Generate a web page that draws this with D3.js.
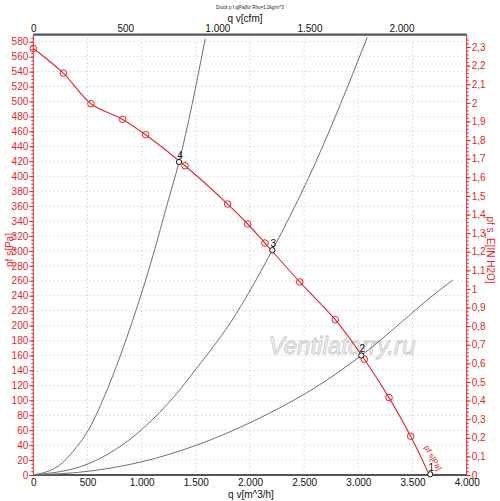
<!DOCTYPE html>
<html>
<head>
<meta charset="utf-8">
<script src="https://cdn.jsdelivr.net/npm/d3@7"></script>
<style>
  body { margin: 0; background: #fff; }
  svg { font-family: "Liberation Sans", Arial, sans-serif; }
</style>
</head>
<body>
<svg width="500" height="501"></svg>
<script>
// fan curve pf s [Pa] over qv [m^3/h]
const fanQ = [0, 277, 532, 825, 1037, 1400, 1794, 1979, 2138, 2459, 2787, 3055, 3283, 3483, 3655];
const fanP = [571, 538, 497, 476, 455.5, 414, 362.7, 336, 310.5, 258.4, 207.9, 155, 103.6, 51.8, 0];
const fanMarked = [1, 1, 1, 1, 1, 1, 1, 1, 1, 1, 1, 1, 1, 1, 0];

// system curves
const sysA = [[0, 0], [250, 14], [369, 32], [508, 60], [687, 116], [846, 177], [985, 237], [1117, 300], [1231, 360], [1345, 419], [1587, 584]];
const sysB = [[0, 0], [508, 15], [1010, 62], [1323, 109], [1508, 143], [1815, 203], [2206, 301], [2538, 397], [3083, 586]];
const sysC = [[0, 0], [508, 5], [1010, 18], [1508, 40], [2000, 70], [2708, 127], [3027, 160], [3754, 248], [3871, 261]];

// operating points
const opLabels = ['1', '2', '3', '4'];
const opQ = [3664, 3027, 2206, 1345];
const opP = [1, 160, 301, 419];

const bottomTicks = [0, 500, 1000, 1500, 2000, 2500, 3000, 3500, 4000];
const topTicks = [0, 500, 1000, 1500, 2000];
const leftTicks = d3.range(0, 581, 20);
const rightTicks = d3.range(0, 23.5, 1).map(d => d / 10);

const CFM = 1.699;    // m^3/h per cfm
const INH2O = 249.09; // Pa per inch of water

const red = '#e3262a';
const svg = d3.select('svg');

const x = d3.scaleLinear().domain([0, 4000]).range([33.3, 466.7]);
const y = d3.scaleLinear().domain([0, 589.4]).range([475, 34.7]);
const xTop = d3.scaleLinear().domain([0, 4000 / CFM]).range(x.range());
const yRight = d3.scaleLinear().domain([0, 589.4 / INH2O]).range(y.range());

const fmtDe = d => d3.format(',')(d).replace(/,/g, '.');
const fmtComma = d => (d === 0 ? '0' : String(+d.toFixed(1)).replace('.', ','));

// grid
const grid = svg.append('g')
  .attr('stroke', '#c4c4c4')
  .attr('stroke-dasharray', '1,3');
grid.selectAll('line.v')
  .data(bottomTicks.slice(1, -1))
  .join('line')
  .attr('class', 'v')
  .attr('x1', d => x(d)).attr('x2', d => x(d))
  .attr('y1', y.range()[1]).attr('y2', y.range()[0]);
grid.selectAll('line.h')
  .data(leftTicks.slice(1))
  .join('line')
  .attr('class', 'h')
  .attr('x1', x.range()[0]).attr('x2', x.range()[1])
  .attr('y1', d => y(d)).attr('y2', d => y(d));

// watermark
svg.append('text')
  .attr('x', 342).attr('y', 354)
  .attr('text-anchor', 'middle')
  .attr('font-size', 24)
  .attr('font-style', 'italic')
  .attr('fill', '#f4f4f4')
  .attr('stroke', '#c8c8c8')
  .attr('stroke-width', 0.8)
  .text('Ventilatorry.ru');

// left axis
const leftMinor = svg.append('g')
  .attr('transform', `translate(${x.range()[0]},0)`)
  .call(d3.axisLeft(y).tickValues(d3.range(0, 590, 5)).tickSize(2).tickFormat(''));
leftMinor.call(g => g.select('.domain').remove());
leftMinor.selectAll('line').attr('stroke', red);
const leftMajor = svg.append('g')
  .attr('transform', `translate(${x.range()[0]},0)`)
  .call(d3.axisLeft(y).tickValues(leftTicks).tickSize(4).tickPadding(1));
leftMajor.selectAll('line').attr('stroke', red);
leftMajor.select('.domain').attr('stroke', red).attr('d', `M0,${y.range()[1]}V${y.range()[0]}`);
leftMajor.selectAll('text').attr('fill', red).attr('font-size', 10).attr('font-family', null);

// right axis
const rightMinor = svg.append('g')
  .attr('transform', `translate(${x.range()[1]},0)`)
  .call(d3.axisRight(yRight).tickValues(d3.range(0, 118).map(d => d / 50)).tickSize(2).tickFormat(''));
rightMinor.call(g => g.select('.domain').remove());
rightMinor.selectAll('line').attr('stroke', red);
const rightMajor = svg.append('g')
  .attr('transform', `translate(${x.range()[1]},0)`)
  .call(d3.axisRight(yRight).tickValues(rightTicks).tickSize(4).tickPadding(1).tickFormat(fmtComma));
rightMajor.selectAll('line').attr('stroke', red);
rightMajor.select('.domain').attr('stroke', red).attr('d', `M0,${y.range()[1]}V${y.range()[0]}`);
rightMajor.selectAll('text').attr('fill', red).attr('font-size', 10).attr('font-family', null);

// bottom axis
const bottomAxis = svg.append('g')
  .attr('transform', `translate(0,${y.range()[0]})`)
  .call(d3.axisBottom(x).tickValues(bottomTicks).tickSize(0).tickPadding(4).tickFormat(fmtDe));
bottomAxis.select('.domain').attr('stroke', '#555').attr('stroke-width', 2.2)
  .attr('d', `M${x.range()[0]},0H${x.range()[1]}`);
bottomAxis.selectAll('text').attr('fill', '#111').attr('font-size', 10).attr('font-family', null);

// top axis (cfm)
const topAxis = svg.append('g')
  .attr('transform', `translate(0,${y.range()[1]})`)
  .call(d3.axisTop(xTop).tickValues(topTicks).tickSize(0).tickPadding(3).tickFormat(fmtDe));
topAxis.select('.domain').attr('stroke', '#555').attr('stroke-width', 2.2)
  .attr('d', `M${x.range()[0]},0H${x.range()[1]}`);
topAxis.selectAll('text').attr('fill', '#111').attr('font-size', 10).attr('font-family', null);

// axis titles
svg.append('text').attr('x', 245).attr('y', 22).attr('text-anchor', 'middle')
  .attr('font-size', 10).attr('fill', '#111').text('q v[cfm]');
svg.append('text').attr('x', 251).attr('y', 498).attr('text-anchor', 'middle')
  .attr('font-size', 10).attr('fill', '#111').text('q v[m^3/h]');
svg.append('text').attr('x', 250).attr('y', 9).attr('text-anchor', 'middle')
  .attr('font-size', 4.5).attr('fill', '#222').text('Druck p f q[Pa]für Rho=1,2kg/m^3');
svg.append('text').attr('transform', 'translate(13,250) rotate(-90)').attr('text-anchor', 'middle')
  .attr('font-size', 10).attr('fill', red).text('pf s[Pa]');
svg.append('text').attr('transform', 'translate(487,250) rotate(90)').attr('text-anchor', 'middle')
  .attr('font-size', 10).attr('fill', red).text('pf s_E[IN H2O]');

// system curves
const sysLine = d3.line().curve(d3.curveMonotoneX).x(d => x(d[0])).y(d => y(d[1]));
svg.append('g')
  .attr('fill', 'none')
  .attr('stroke', '#707070')
  .attr('stroke-width', 1)
  .selectAll('path')
  .data([sysA, sysB, sysC])
  .join('path')
  .attr('d', sysLine);

// fan curve
const fan = fanQ.map((q, i) => ({ q, p: fanP[i], m: fanMarked[i] }));
svg.append('path')
  .attr('fill', 'none')
  .attr('stroke', red)
  .attr('stroke-width', 1.1)
  .attr('d', d3.line().curve(d3.curveCatmullRom).x(d => x(d.q)).y(d => y(d.p))(fan));
svg.append('g')
  .selectAll('circle')
  .data(fan.filter(d => d.m))
  .join('circle')
  .attr('cx', d => x(d.q)).attr('cy', d => y(d.p)).attr('r', 3.3)
  .attr('fill', 'none').attr('stroke', red).attr('stroke-width', 1);

// curve label along the end of the fan curve
svg.append('text')
  .attr('transform', `translate(${x(3606)},${y(37)}) rotate(61)`)
  .attr('font-size', 8).attr('fill', red)
  .text('pf s[Pa]');

// operating points
const ops = opQ.map((q, i) => ({ q, p: opP[i], label: opLabels[i] }));
const opG = svg.append('g');
opG.selectAll('circle')
  .data(ops)
  .join('circle')
  .attr('cx', d => x(d.q)).attr('cy', d => y(d.p)).attr('r', 2.6)
  .attr('fill', '#fff').attr('stroke', '#111').attr('stroke-width', 1);
opG.selectAll('text')
  .data(ops)
  .join('text')
  .attr('x', d => x(d.q) + 1).attr('y', d => y(d.p) - 3)
  .attr('text-anchor', 'middle')
  .attr('font-size', 10).attr('fill', '#111')
  .text(d => d.label);
</script>
</body>
</html>
